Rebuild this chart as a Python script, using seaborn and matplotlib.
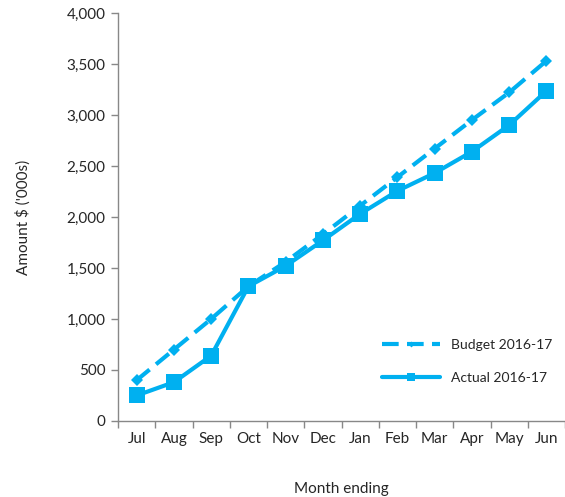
import matplotlib
matplotlib.use("Agg")
import matplotlib.pyplot as plt
import seaborn as sns
import numpy as np
from matplotlib.ticker import FuncFormatter, FixedLocator

months = ["Jul", "Aug", "Sep", "Oct", "Nov", "Dec", "Jan", "Feb", "Mar", "Apr", "May", "Jun"]
budget = [400, 700, 1000, 1320, 1560, 1830, 2110, 2390, 2670, 2950, 3220, 3530]
actual = [250, 380, 640, 1320, 1520, 1770, 2030, 2255, 2430, 2640, 2900, 3235]

sns.set_style("white")
plt.rcParams['font.family'] = ['Lato', 'DejaVu Sans']
color = "#00B0F0"

fig = plt.figure(figsize=(5.65, 4.97), dpi=100)
ax = fig.add_axes([0.209, 0.153, 0.791, 0.821])

x = np.arange(len(months))
sns.lineplot(x=x, y=budget, ax=ax, color=color, lw=3, marker="D", markersize=6,
             markeredgewidth=0, dashes=False, label="Budget 2016-17")
ax.lines[-1].set_dashes([4, 2])
sns.lineplot(x=x, y=actual, ax=ax, color=color, lw=3, marker="s", markersize=11,
             markeredgewidth=0, label="Actual 2016-17")

ax.set_xlim(-0.5, 11.5)
ax.set_ylim(0, 4000)
ax.set_xticks(x)
ax.set_xticklabels(months, fontsize=11)
ax.xaxis.set_minor_locator(FixedLocator(np.arange(-0.5, 11.6, 1)))
ax.tick_params(axis="x", which="major", length=0, pad=8)
ax.tick_params(axis="x", which="minor", length=5, color="#888888", width=1, direction="out", bottom=True)
ax.set_yticks(np.arange(0, 4001, 500))
ax.yaxis.set_major_formatter(FuncFormatter(lambda v, p: f"{int(v):,}"))
ax.tick_params(axis="y", length=5, color="#888888", width=1, direction="out", left=True, labelsize=11, pad=4)

for s in ["top", "right"]:
    ax.spines[s].set_visible(False)
for s in ["left", "bottom"]:
    ax.spines[s].set_color("#888888")
    ax.spines[s].set_linewidth(1)

ax.set_xlabel("Month ending", fontsize=11, labelpad=26)
ax.set_ylabel("Amount $ ('000s)", fontsize=11, labelpad=26)

leg = ax.legend(loc="lower right", bbox_to_anchor=(1.0, 0.06), frameon=False, fontsize=10,
                handlelength=4.2, labelspacing=1.5, markerscale=0.5)

fig.savefig("out.png", dpi=100)
